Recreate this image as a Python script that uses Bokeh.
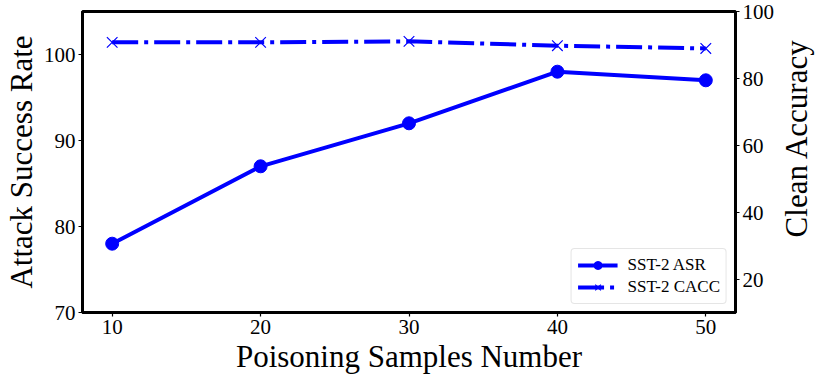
import math
from bokeh.plotting import figure
from bokeh.layouts import row
from bokeh.models import Range1d, LinearAxis, FixedTicker, Legend, LegendItem, Label
from bokeh.embed import file_html
from bokeh.resources import INLINE

samples = [10, 20, 30, 40, 50]
asr = [78, 87, 92, 98, 97]
cacc = [90.8, 90.8, 91.1, 89.8, 89.0]
x_ticks = [10, 20, 30, 40, 50]
left_ticks = [70, 80, 90, 100]
right_ticks = [20, 40, 60, 80, 100]

FONT = "Liberation Serif"
BLUE = "#0000ff"
LABEL_SIZE = "31px"

p = figure(width=777, height=376, output_backend="svg", toolbar_location=None,
           x_range=Range1d(8, 52), y_range=Range1d(70, 105),
           min_border_left=10, min_border_right=42, min_border_top=11, min_border_bottom=10)
p.extra_y_ranges = {"right": Range1d(10.3, 100)}

p.xgrid.visible = False
p.ygrid.visible = False
p.outline_line_color = "black"
p.outline_line_width = 3
p.background_fill_color = "white"
p.border_fill_color = "white"

def style_axis(ax, ticks, label):
    ax.ticker = FixedTicker(ticks=ticks)
    ax.axis_label = label
    ax.axis_label_text_font = FONT
    ax.axis_label_text_font_size = LABEL_SIZE
    ax.axis_label_text_font_style = "normal"
    ax.axis_label_text_color = "black"
    ax.major_label_text_font = FONT
    ax.major_label_text_font_size = "21px"
    ax.major_label_text_color = "black"
    ax.axis_line_color = "black"
    ax.axis_line_width = 3
    ax.major_tick_line_color = "black"
    ax.major_tick_line_width = 1.2
    ax.major_tick_out = 4
    ax.major_tick_in = 0
    ax.minor_tick_line_color = None
    ax.major_label_standoff = 3
    ax.axis_label_standoff = 2

style_axis(p.xaxis[0], x_ticks, "Poisoning Samples Number")
style_axis(p.yaxis[0], left_ticks, "Attack Success Rate")
ra = LinearAxis(y_range_name="right")
style_axis(ra, right_ticks, None)
p.add_layout(ra, "right")

l1 = p.line(samples, asr, line_color=BLUE, line_width=4)
s1 = p.scatter(samples, asr, marker="circle", size=13, fill_color=BLUE, line_color=BLUE)
l2 = p.line(samples, cacc, line_color=BLUE, line_width=4, line_dash="26 6 4 6",
            y_range_name="right")
s2 = p.scatter(samples, cacc, marker="x", size=15, line_color=BLUE, line_width=1.2,
               y_range_name="right")

legend = Legend(items=[LegendItem(label="SST-2 ASR", renderers=[l1, s1]),
                       LegendItem(label="SST-2 CACC", renderers=[l2, s2])],
                location="bottom_right")
legend.label_text_font = FONT
legend.label_text_font_size = "17px"
legend.label_text_color = "black"
legend.border_line_color = "#cccccc"
legend.border_line_width = 1
legend.border_radius = 4
legend.margin = 8
legend.padding = 6
legend.spacing = 2
legend.glyph_width = 40
legend.label_standoff = 10
p.add_layout(legend)

# Right-hand axis title, drawn in a narrow companion figure so it reads bottom-to-top
p2 = figure(width=38, height=376, output_backend="svg", toolbar_location=None,
            x_range=Range1d(0, 38), y_range=Range1d(0, 376),
            x_axis_location=None, y_axis_location=None,
            min_border_left=0, min_border_right=0, min_border_top=0, min_border_bottom=0)
p2.xgrid.visible = False
p2.ygrid.visible = False
p2.outline_line_color = None
p2.background_fill_color = "white"
p2.border_fill_color = "white"
p2.add_layout(Label(x=19, y=218, text="Clean Accuracy", angle=math.pi / 2,
                    text_align="center", text_baseline="middle",
                    text_font=FONT, text_font_size=LABEL_SIZE, text_color="black"))

open("out.html", "w").write(file_html(row(p, p2), INLINE))
